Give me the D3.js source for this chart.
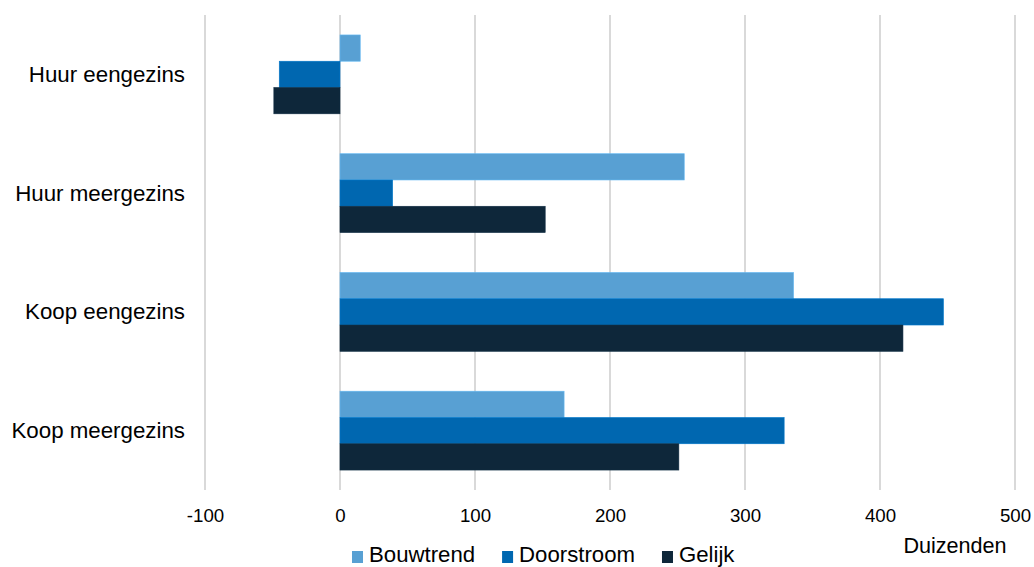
<!DOCTYPE html>
<html>
<head>
<meta charset="utf-8">
<script src="https://cdn.jsdelivr.net/npm/d3@7"></script>
<style>
  html, body { margin: 0; padding: 0; background: #ffffff; }
  svg { display: block; font-family: "Liberation Sans", Arial, sans-serif; }
</style>
</head>
<body>
<svg id="chart" width="1034" height="567"></svg>
<script>
// Woningtypen (categorieën op de y-as)
const categories = ["Huur eengezins", "Huur meergezins", "Koop eengezins", "Koop meergezins"];

// Reeksen, in duizenden woningen
const seriesNames = ["Bouwtrend", "Doorstroom", "Gelijk"];
const bouwtrend  = [15, 255, 336, 166];
const doorstroom = [-45, 39, 447, 329];
const gelijk     = [-49, 152, 417, 251];

// As-ticks
const xTicks = [-100, 0, 100, 200, 300, 400, 500];
const unitLabel = "Duizenden";

const colors = ["#58a0d3", "#0067b0", "#0e273a"];
const seriesValues = [bouwtrend, doorstroom, gelijk];

const svg = d3.select("#chart");

const x = d3.scaleLinear().domain([-100, 500]).range([205, 1015]);
const y = d3.scaleBand().domain(categories).range([15, 490])
  .paddingInner(0.336).paddingOuter(0.168);
const ySub = d3.scaleBand().domain(seriesNames).range([0, y.bandwidth()]);

// Verticale rasterlijnen
svg.append("g").selectAll("line").data(xTicks).join("line")
  .attr("x1", d => x(d)).attr("x2", d => x(d))
  .attr("y1", 15).attr("y2", 490)
  .attr("stroke", "#d9d9d9").attr("stroke-width", 2);

// Balken
const rows = categories.map((c, i) => ({
  cat: c,
  vals: seriesNames.map((s, j) => ({ series: s, value: seriesValues[j][i], color: colors[j] }))
}));

const groups = svg.append("g").selectAll("g").data(rows).join("g")
  .attr("transform", d => `translate(0,${y(d.cat)})`);

groups.selectAll("rect").data(d => d.vals).join("rect")
  .attr("x", d => x(Math.min(0, d.value)))
  .attr("width", d => Math.abs(x(d.value) - x(0)))
  .attr("y", d => ySub(d.series))
  .attr("height", ySub.bandwidth())
  .attr("fill", d => d.color)
  .attr("stroke", d => d3.color(d.color).brighter(0.4))
  .attr("stroke-width", 0.6);

// Categorielabels
svg.append("g").selectAll("text").data(categories).join("text")
  .attr("x", 185)
  .attr("y", d => y(d) + y.bandwidth() / 2 + 7.5)
  .attr("text-anchor", "end")
  .attr("font-size", "22.3px")
  .attr("fill", "#000")
  .text(d => d);

// X-as met ticklabels
const xAxis = d3.axisBottom(x).tickValues(xTicks).tickSize(0).tickPadding(0).tickFormat(d => String(d));
const gx = svg.append("g").attr("transform", "translate(0,522)").call(xAxis);
gx.select(".domain").remove();
gx.selectAll("text")
  .attr("font-size", "18.7px")
  .attr("font-family", "Liberation Sans, Arial, sans-serif")
  .attr("fill", "#000")
  .attr("dy", 0);

// Eenheid
svg.append("text")
  .attr("x", 955).attr("y", 553)
  .attr("text-anchor", "middle")
  .attr("font-size", "21.6px")
  .attr("fill", "#000")
  .text(unitLabel);

// Legenda
const legend = svg.append("g").attr("transform", "translate(352,562)");
let lx = 0;
seriesNames.forEach((name, i) => {
  const item = legend.append("g").attr("transform", `translate(${lx},0)`);
  item.append("rect").attr("x", 0).attr("y", -11).attr("width", 11).attr("height", 12).attr("fill", colors[i]);
  const t = item.append("text").attr("x", 17).attr("y", 0)
    .attr("font-size", "22.2px").attr("fill", "#000").text(name);
  lx += 17 + t.node().getComputedTextLength() + 27;
});
</script>
</body>
</html>
